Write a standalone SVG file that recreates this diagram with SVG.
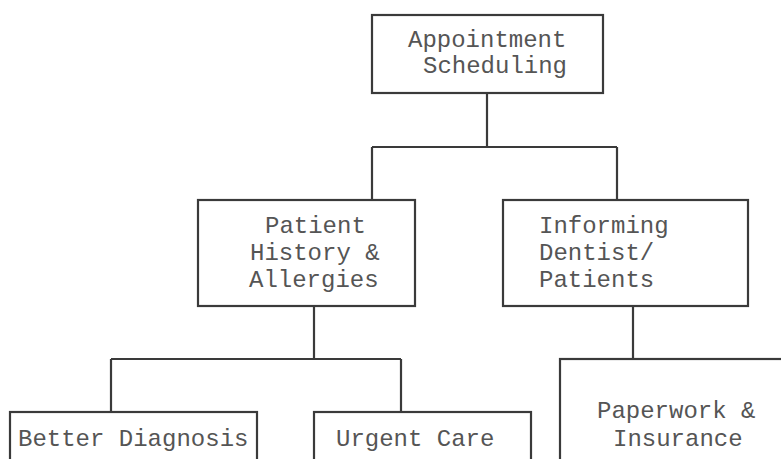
<svg xmlns="http://www.w3.org/2000/svg" width="781" height="459" viewBox="0 0 781 459">
<style>
.box{fill:#fff;stroke:#3a3a3a;stroke-width:2.2}
.ln{fill:none;stroke:#3a3a3a;stroke-width:2.2}
.t{font-family:"Courier New","Liberation Mono",monospace;font-size:24px;fill:#555}
</style>
<rect width="781" height="459" fill="#fff"/>
<g id="connectors">
<path class="ln" d="M487 93 V147 M372 147 H617 M372 147 V200 M617 147 V200"/>
<path class="ln" d="M314 306 V359 M111 359 H401 M111 359 V412 M401 359 V412"/>
<path class="ln" d="M633 306 V359"/>
</g>
<g id="appointment">
<rect class="box" x="372" y="15" width="231" height="78"/>
<text class="t" x="408" y="47">Appointment</text>
<text class="t" x="423" y="73">Scheduling</text>
</g>
<g id="patient">
<rect class="box" x="198" y="200" width="217" height="106"/>
<text class="t" x="265" y="233">Patient</text>
<text class="t" x="250" y="260">History &amp;</text>
<text class="t" x="249" y="287">Allergies</text>
</g>
<g id="informing">
<rect class="box" x="503" y="200" width="245" height="106"/>
<text class="t" x="539" y="233">Informing</text>
<text class="t" x="539" y="260">Dentist/</text>
<text class="t" x="539" y="287">Patients</text>
</g>
<g id="better">
<rect class="box" x="10" y="412" width="247" height="60"/>
<text class="t" x="18" y="446">Better Diagnosis</text>
</g>
<g id="urgent">
<rect class="box" x="314" y="412" width="217" height="60"/>
<text class="t" x="336" y="446">Urgent Care</text>
</g>
<g id="paperwork">
<rect class="box" x="560" y="359" width="240" height="120"/>
<text class="t" x="597" y="418">Paperwork &amp;</text>
<text class="t" x="613" y="446">Insurance</text>
</g>
</svg>
